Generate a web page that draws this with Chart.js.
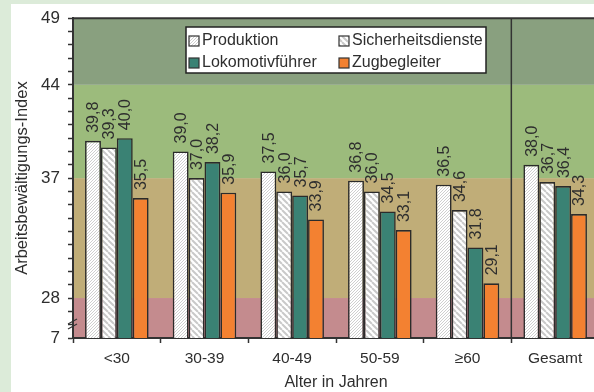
<!DOCTYPE html>
<html>
<head>
<meta charset="utf-8">
<script src="https://cdn.jsdelivr.net/npm/chart.js@4"></script>
<style>
  html, body { margin: 0; padding: 0; overflow: hidden; background: #dcebd9; }
  #wrap { position: absolute; left: 0; top: 0; width: 600px; height: 392px; }
</style>
</head>
<body>
<div id="wrap"><canvas id="chart" width="600" height="392"></canvas></div>
<script>
const categories = ["<30", "30-39", "40-49", "50-59", "\u226560", "Gesamt"];
const seriesNames = ["Produktion", "Sicherheitsdienste", "Lokomotivführer", "Zugbegleiter"];
const produktion = [39.8, 39.0, 37.5, 36.8, 36.5, 38.0];
const sicherheit = [39.3, 37.0, 36.0, 36.0, 34.6, 36.7];
const lokfuehrer = [40.0, 38.2, 35.7, 34.5, 31.8, 36.4];
const zugbegleiter = [35.5, 35.9, 33.9, 33.1, 29.1, 34.3];

// y axis is broken: the bottom value 25 is labelled "7"
const axisMin = 25;
const axisMax = 49;
const tickLabels = { 25: "7", 28: "28", 37: "37", 44: "44", 49: "49" };
const zones = [[25, 28], [28, 37], [37, 44], [44, 49]];

const FONT = "'Liberation Sans', Arial, sans-serif";
const TEXT = "#2e2e2e";
const zoneColors = ["#c48b8e", "#c0ad78", "#9cbb7c", "#89a07f"];

function hatch(spacing, width, color, dir) {
  const c = document.createElement("canvas");
  c.width = spacing; c.height = spacing;
  const g = c.getContext("2d");
  g.fillStyle = "#ffffff";
  g.fillRect(0, 0, spacing, spacing);
  g.strokeStyle = color;
  g.lineWidth = width;
  g.beginPath();
  for (let k = -1; k <= 1; k++) {
    if (dir > 0) {
      g.moveTo(k * spacing, spacing);
      g.lineTo(k * spacing + spacing, 0);
    } else {
      g.moveTo(k * spacing, 0);
      g.lineTo(k * spacing + spacing, spacing);
    }
  }
  g.stroke();
  return g.createPattern(c, "repeat");
}

const fills = [
  hatch(3, 1, "#cfcfcf", 1),
  hatch(6, 2, "#c9c9c9", -1),
  "#3a8274",
  "#f38131"
];

const bgPlugin = {
  id: "bg",
  beforeDraw(chart) {
    const { ctx, chartArea: a, scales: { y } } = chart;
    ctx.save();
    ctx.fillStyle = "#dcebd9";
    ctx.fillRect(0, 0, chart.width, chart.height);
    ctx.fillStyle = "#ffffff";
    ctx.fillRect(11, 4, chart.width, chart.height);
    zones.forEach((z, i) => {
      const top = y.getPixelForValue(z[1]);
      const bot = y.getPixelForValue(z[0]);
      ctx.fillStyle = zoneColors[i];
      ctx.fillRect(a.left, top, a.right - a.left, bot - top);
    });
    ctx.restore();
  },
  afterDatasetsDraw(chart) {
    const { ctx, chartArea: a, scales: { x } } = chart;
    ctx.save();
    // separator before "Gesamt"
    const sx = (x.getPixelForValue(4) + x.getPixelForValue(5)) / 2;
    ctx.strokeStyle = "#333";
    ctx.lineWidth = 1.5;
    ctx.beginPath();
    ctx.moveTo(sx, a.top);
    ctx.lineTo(sx, a.bottom);
    ctx.stroke();
    // top frame
    ctx.lineWidth = 2;
    ctx.beginPath();
    ctx.moveTo(a.left, a.top);
    ctx.lineTo(a.right, a.top);
    ctx.stroke();

    // value labels
    ctx.fillStyle = TEXT;
    ctx.font = "16px " + FONT;
    ctx.textAlign = "left";
    ctx.textBaseline = "middle";
    chart.data.datasets.forEach((ds, di) => {
      chart.getDatasetMeta(di).data.forEach((el, i) => {
        ctx.save();
        ctx.translate(el.x + 1, el.y - 8);
        ctx.rotate(-Math.PI / 2);
        ctx.fillText(ds.data[i].toFixed(1).replace(".", ","), 0, 0);
        ctx.restore();
      });
    });
    ctx.restore();
  },
  afterDraw(chart) {
    const { ctx, chartArea: a } = chart;
    ctx.save();
    // axis break
    ctx.strokeStyle = "#333";
    ctx.lineWidth = 1.2;
    [321, 326].forEach(yy => {
      ctx.beginPath();
      ctx.moveTo(a.left - 5, yy + 3);
      ctx.lineTo(a.left + 4, yy - 2);
      ctx.stroke();
    });

    // axis titles
    ctx.fillStyle = TEXT;
    ctx.font = "16px " + FONT;
    ctx.textAlign = "center";
    ctx.textBaseline = "middle";
    ctx.fillText("Alter in Jahren", (a.left + a.right) / 2, 383);
    ctx.save();
    ctx.translate(22, (a.top + a.bottom) / 2);
    ctx.rotate(-Math.PI / 2);
    ctx.font = "16.5px " + FONT;
    ctx.fillText("Arbeitsbewältigungs-Index", 0, 0);
    ctx.restore();

    // legend
    const lx = 186, ly = 27, lw = 300, lh = 46;
    ctx.fillStyle = "#ffffff";
    ctx.fillRect(lx, ly, lw, lh);
    ctx.strokeStyle = "#222";
    ctx.lineWidth = 1.5;
    ctx.strokeRect(lx, ly, lw, lh);
    const cols = [189, 339];
    const rows = [41, 63];
    ctx.font = "16px " + FONT;
    ctx.textAlign = "left";
    chart.data.datasets.forEach((ds, i) => {
      const cx = cols[i % 2], cy = rows[Math.floor(i / 2)];
      ctx.fillStyle = ds.backgroundColor;
      ctx.fillRect(cx, cy - 5, 10, 10);
      ctx.strokeStyle = "#333";
      ctx.lineWidth = 1.2;
      ctx.strokeRect(cx, cy - 5, 10, 10);
      ctx.fillStyle = TEXT;
      ctx.fillText(ds.label, cx + 13, cy);
    });
    ctx.restore();
  }
};

const seriesData = [produktion, sicherheit, lokfuehrer, zugbegleiter];

new Chart(document.getElementById("chart"), {
  type: "bar",
  data: {
    labels: categories,
    datasets: seriesNames.map((name, i) => ({
      label: name,
      data: seriesData[i],
      backgroundColor: fills[i],
      borderColor: "#2b2b2b",
      borderWidth: 1.6,
      categoryPercentage: 0.725,
      barPercentage: 1.0
    }))
  },
  options: {
    responsive: false,
    animation: false,
    events: [],
    layout: { padding: { left: 11, top: 18, right: 1, bottom: 0 } },
    plugins: {
      legend: { display: false },
      tooltip: { enabled: false }
    },
    scales: {
      x: {
        grid: {
          offset: true,
          drawOnChartArea: false,
          tickLength: 5,
          tickColor: "#333",
          tickWidth: 1.5
        },
        border: { color: "#333", width: 2 },
        ticks: { color: TEXT, font: { family: FONT, size: 15.5 }, padding: 6 },
        afterFit(s) { s.height = 54; }
      },
      y: {
        min: axisMin,
        max: axisMax,
        grid: {
          drawOnChartArea: false,
          tickLength: 5,
          tickColor: "#333",
          tickWidth: 1.5
        },
        border: { color: "#333", width: 2 },
        ticks: {
          stepSize: 1,
          autoSkip: false,
          color: TEXT,
          padding: 8,
          font: { family: FONT, size: 17 },
          callback: v => tickLabels[v] || ""
        },
        afterFit(s) { s.width = 62; }
      }
    }
  },
  plugins: [bgPlugin]
});
</script>
</body>
</html>
